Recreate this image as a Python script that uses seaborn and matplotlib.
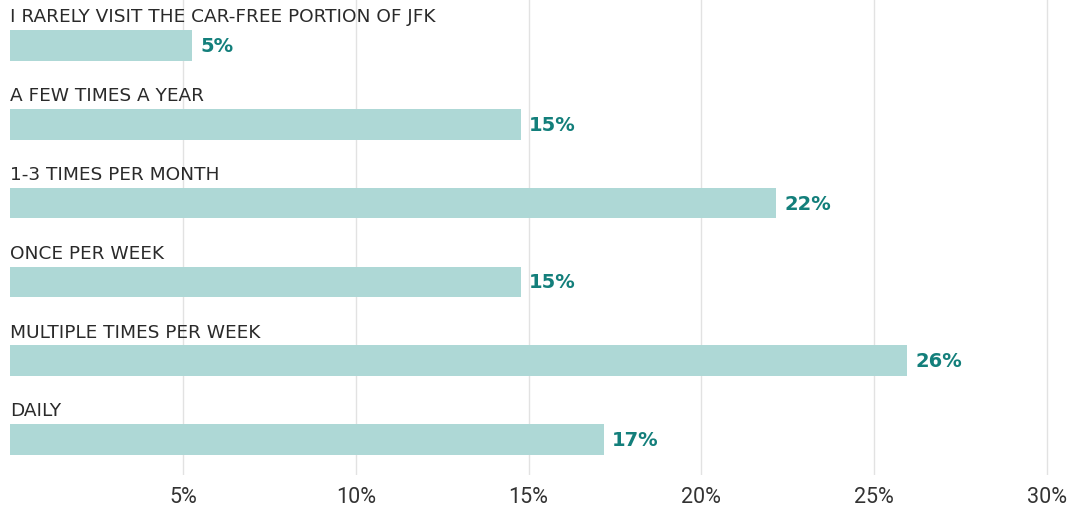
import matplotlib.pyplot as plt
import seaborn as sns
import pandas as pd

categories = [
    "I RARELY VISIT THE CAR-FREE PORTION OF JFK",
    "A FEW TIMES A YEAR",
    "1-3 TIMES PER MONTH",
    "ONCE PER WEEK",
    "MULTIPLE TIMES PER WEEK",
    "DAILY",
]
shares = [5.26, 14.77, 22.17, 14.77, 25.95, 17.17]
tick_values = [5, 10, 15, 20, 25, 30]
tick_labels = ["5%", "10%", "15%", "20%", "25%", "30%"]

df = pd.DataFrame({"category": categories, "share": shares})

sns.set_style("white")
plt.rcParams["font.family"] = ["Roboto", "DejaVu Sans"]

fig = plt.figure(figsize=(10.73, 5.10), dpi=100)
ax = fig.add_axes([10 / 1073, 34 / 510, 1 - 10 / 1073, 476 / 510])

sns.barplot(data=df, x="share", y="category", orient="h", color="#aed8d6",
            saturation=1, width=0.39, linewidth=0, ax=ax)

ax.set_xlim(0, 30.75)
ax.set_ylim(5.45, -0.59)
ax.set_xticks(tick_values)
ax.set_xticklabels(tick_labels, fontsize=15.5, color="#333333")
ax.set_yticks([])
ax.set_xlabel("")
ax.set_ylabel("")
ax.tick_params(axis="x", length=0, pad=8)
ax.grid(axis="x", color="#e2e2e2", linewidth=1)
ax.set_axisbelow(True)
for s in ax.spines.values():
    s.set_visible(False)

for i, (cat, v) in enumerate(zip(categories, shares)):
    ax.text(0, i - 0.37, cat, fontsize=13.3, family="DejaVu Sans",
            color="#2a2a2a", va="center", ha="left")
    ax.annotate(f"{round(v)}%", (v, i), xytext=(6, 0), textcoords="offset points",
                fontsize=14, fontweight="bold", family="DejaVu Sans",
                color="#137f7b", va="center", ha="left")

fig.savefig("out.png", dpi=100)
